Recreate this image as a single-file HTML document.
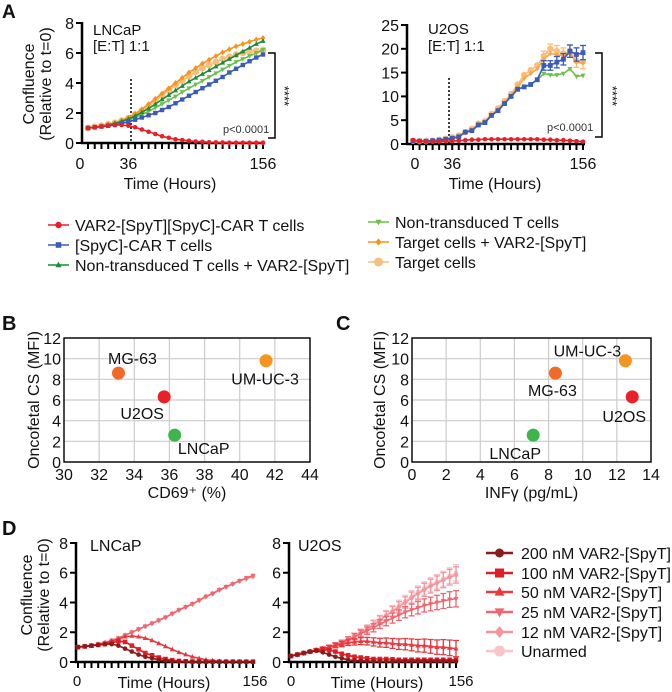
<!DOCTYPE html>
<html><head><meta charset="utf-8"><style>
html,body{margin:0;padding:0;background:#fff}
svg{display:block;font-family:"Liberation Sans",Arial,sans-serif}
</style></head><body>
<svg id="fig" width="672" height="692" viewBox="0 0 672 692" xmlns="http://www.w3.org/2000/svg"></svg>
<script>
// ---- Panel A data (time step 6 h, 0..156) ----
const timesA = [0,6,12,18,24,30,36,42,48,54,60,66,72,78,84,90,96,102,108,114,120,126,132,138,144,150,156];
const lncapCar = [1.0,1.05,1.1,1.15,1.2,1.2,1.15,1.05,0.9,0.75,0.6,0.45,0.35,0.25,0.2,0.15,0.1,0.08,0.05,0.04,0.03,0.02,0.02,0.02,0.02,0.02,0.02];
const lncapSpyC = [1.0,1.05,1.1,1.15,1.2,1.3,1.4,1.55,1.7,1.85,2.0,2.2,2.4,2.65,2.9,3.15,3.4,3.65,3.9,4.15,4.4,4.7,4.95,5.2,5.45,5.7,5.9];
const lncapNtVar = [1,1.05,1.1,1.2,1.3,1.45,1.6,1.8,2.05,2.3,2.6,2.9,3.2,3.5,3.8,4.1,4.35,4.6,4.85,5.1,5.35,5.6,5.85,6.1,6.35,6.6,6.8];
const lncapNt = [1,1.05,1.1,1.2,1.3,1.4,1.55,1.7,1.9,2.1,2.35,2.6,2.85,3.1,3.4,3.65,3.9,4.15,4.4,4.65,4.9,5.15,5.4,5.6,5.8,6.0,6.2];
const lncapTVar = [1,1.08,1.15,1.25,1.35,1.5,1.7,1.95,2.25,2.6,2.95,3.3,3.65,4.0,4.35,4.7,5.0,5.3,5.55,5.8,6.05,6.25,6.45,6.6,6.75,6.9,7.0];
const lncapTarget = [1,1.08,1.15,1.25,1.35,1.5,1.65,1.9,2.15,2.45,2.8,3.15,3.5,3.85,4.15,4.45,4.75,5.0,5.2,5.4,5.6,5.75,5.9,6.0,6.1,6.15,6.2];
const u2osCar = [0.8,0.6,0.5,0.5,0.5,0.6,0.6,0.7,0.8,0.9,0.9,1.0,1.0,1.0,1.0,1.0,1.0,1.0,1.0,1.0,0.9,0.9,0.8,0.8,0.7,0.6,0.5];
const u2osSpyC = [0.7,0.6,0.6,0.7,0.8,1.0,1.2,1.5,2.5,2.8,4.0,4.5,6.0,7.0,8.5,10.0,11.5,12.0,12.5,13.5,16.5,16.5,17.2,17.8,19.5,18.8,19.2];
const u2osNt = [0.7,0.6,0.6,0.7,0.8,1.0,1.2,1.5,2.5,2.8,4.0,4.5,6.0,7.0,8.5,10.0,11.5,12.0,12.5,13.5,14.8,14.5,14.5,14.8,15.8,14.2,14.4];
const u2osTVar = [0.7,0.6,0.6,0.7,0.85,1.05,1.3,1.7,2.4,3.0,4.1,4.6,6.1,7.2,8.7,10.2,12.0,13.8,14.8,15.8,17.8,19.0,18.8,18.5,19.0,17.2,17.0];
const u2osTarget = [0.7,0.6,0.6,0.7,0.9,1.1,1.4,1.8,2.5,3.2,4.3,4.8,6.3,7.5,9.0,10.5,12.5,14.5,15.5,16.5,18.5,20.0,19.5,19.0,19.5,17.5,17.3];
const u2osErr = [0,0,0,0,0,0,0,0,0,0,0,0,0,0,0,0,0,0,0,0,1.0,1.0,1.2,1.2,1.3,1.4,1.5];
const ticksA1 = [0,2,4,6,8];
const ticksA2 = [0,5,10,15,20,25];
const xLabels = [0,36,156];
// ---- Panel B/C data ----
const cellLines = ["MG-63","U2OS","LNCaP","UM-UC-3"];
const cd69 = [33.1,35.7,36.3,41.5];
const infg = [8.4,12.9,7.1,12.5];
const oncoCS = [8.6,6.3,2.6,9.8];
const ticksB = [30,32,34,36,38,40,42,44];
const ticksC = [0,2,4,6,8,10,12,14];
const ticksBY = [0,2,4,6,8,10,12];
// ---- Panel D data ----
const dLn200 = [1.0,1.05,1.1,1.15,1.2,1.2,1.1,0.9,0.7,0.5,0.35,0.25,0.15,0.1,0.05,0.03,0.02,0.02,0.02,0.02,0.02,0.02,0.02,0.02,0.02,0.02,0.02];
const dLn100 = [1,1.05,1.1,1.15,1.2,1.3,1.4,1.35,1.1,0.85,0.6,0.45,0.3,0.2,0.12,0.07,0.05,0.03,0.02,0.02,0.02,0.02,0.02,0.02,0.02,0.02,0.02];
const dLn50 = [1,1.05,1.1,1.15,1.25,1.4,1.55,1.7,1.75,1.7,1.6,1.45,1.25,1.05,0.85,0.65,0.5,0.35,0.25,0.15,0.1,0.05,0.03,0.02,0.02,0.02,0.02];
const dLn25 = [1,1.05,1.1,1.2,1.3,1.45,1.6,1.8,2.0,2.2,2.4,2.6,2.8,3.0,3.25,3.5,3.7,3.9,4.15,4.4,4.6,4.85,5.05,5.25,5.45,5.65,5.8];
const dLn12 = [1,1.05,1.1,1.2,1.3,1.45,1.6,1.8,2.0,2.2,2.4,2.6,2.8,3.0,3.25,3.5,3.7,3.9,4.15,4.4,4.6,4.85,5.05,5.25,5.45,5.6,5.75];
const dLnUn = [1,1.05,1.1,1.2,1.3,1.45,1.6,1.8,2.0,2.2,2.4,2.6,2.8,3.0,3.25,3.5,3.7,3.9,4.15,4.4,4.6,4.85,5.05,5.25,5.45,5.65,5.8];
const dU200 = [0.4,0.5,0.6,0.7,0.75,0.65,0.5,0.35,0.25,0.15,0.1,0.08,0.06,0.05,0.05,0.05,0.05,0.05,0.05,0.05,0.05,0.05,0.05,0.05,0.05,0.05,0.05];
const dU100 = [0.4,0.5,0.6,0.7,0.8,0.85,0.8,0.7,0.55,0.45,0.35,0.3,0.25,0.2,0.2,0.2,0.18,0.15,0.15,0.15,0.15,0.15,0.15,0.15,0.15,0.15,0.15];
const dU50 = [0.4,0.5,0.6,0.7,0.8,0.9,1.0,1.1,1.2,1.3,1.35,1.4,1.4,1.35,1.3,1.3,1.25,1.2,1.2,1.15,1.1,1.1,1.05,1.0,1.0,0.95,0.9];
const dU25 = [0.4,0.5,0.6,0.7,0.8,0.9,1.0,1.15,1.3,1.5,1.7,1.9,2.1,2.3,2.55,2.75,2.95,3.15,3.35,3.5,3.65,3.8,3.9,4.0,4.1,4.2,4.25];
const dU12 = [0.4,0.5,0.6,0.7,0.8,0.9,1.0,1.15,1.3,1.5,1.7,1.95,2.2,2.5,2.8,3.1,3.4,3.7,4.0,4.3,4.6,4.85,5.1,5.3,5.5,5.7,5.85];
const dUUn = [0.4,0.5,0.6,0.7,0.8,0.9,1.0,1.15,1.3,1.5,1.75,2.0,2.25,2.55,2.85,3.15,3.45,3.8,4.1,4.4,4.7,4.95,5.2,5.4,5.6,5.8,6.0];
const ticksD = [0,2,4,6,8];

const NS="http://www.w3.org/2000/svg";
const svg=document.getElementById('fig');
function el(tag,attrs,parent){const e=document.createElementNS(NS,tag);for(const k in attrs)e.setAttribute(k,attrs[k]);(parent||svg).appendChild(e);return e;}
function txt(s,x,y,size,anchor,parent,extra){const t=el('text',Object.assign({x:x,y:y,'font-size':size,'text-anchor':anchor||'start',fill:'#111'},extra||{}),parent);t.textContent=s;return t;}
function lin(x0,x1,d0,d1){return v=>x0+(v-d0)/(d1-d0)*(x1-x0);}
function marker(shape,x,y,r,color,g){
  let m;
  if(shape==='circle')m=el('circle',{cx:x,cy:y,r:r,fill:color},g);
  else if(shape==='square')m=el('rect',{x:x-r,y:y-r,width:2*r,height:2*r,fill:color},g);
  else if(shape==='up')m=el('polygon',{points:`${x},${y-r*1.2} ${x-r*1.1},${y+r*0.8} ${x+r*1.1},${y+r*0.8}`,fill:color},g);
  else if(shape==='down')m=el('polygon',{points:`${x},${y+r*1.2} ${x-r*1.1},${y-r*0.8} ${x+r*1.1},${y-r*0.8}`,fill:color},g);
  else m=el('polygon',{points:`${x},${y-r*1.3} ${x-r*1.1},${y} ${x},${y+r*1.3} ${x+r*1.1},${y}`,fill:color},g);
  return m;
}
function series(name,xs,ys,sx,sy,color,shape,r,err){
  const g=el('g',{});
  
  
  const pts=xs.map((t,i)=>sx(t).toFixed(1)+','+sy(ys[i]).toFixed(1)).join(' ');
  el('polyline',{points:pts,fill:'none',stroke:color,'stroke-width':1.6},g);
  xs.forEach((t,i)=>{
    if(err&&err[i]>0){const x=sx(t);el('line',{x1:x,x2:x,y1:sy(ys[i]-err[i]),y2:sy(ys[i]+err[i]),stroke:color,'stroke-width':1.3},g);
      el('line',{x1:x-3,x2:x+3,y1:sy(ys[i]+err[i]),y2:sy(ys[i]+err[i]),stroke:color,'stroke-width':1.3},g);
      el('line',{x1:x-3,x2:x+3,y1:sy(ys[i]-err[i]),y2:sy(ys[i]-err[i]),stroke:color,'stroke-width':1.3},g);}
    const m=marker(shape,sx(t),sy(ys[i]),r,color,g);
    
    
  });
}
function timeAxes(name,axX,x0,x156,yTop,yBot,sy,ticks,step,fs){
  const g=el('g',{});
  
  
  el('line',{x1:axX,x2:axX,y1:yTop,y2:yBot+1,stroke:'#000','stroke-width':2.5},g);
  el('line',{x1:axX-1,x2:x156+2,y1:yBot,y2:yBot,stroke:'#000','stroke-width':2.5},g);
  ticks.forEach(v=>{el('line',{x1:axX-6,x2:axX,y1:sy(v),y2:sy(v),stroke:'#000','stroke-width':2},g);
    txt(String(v),axX-8,sy(v)+fs*0.36,fs,'end',g);});
  const sx=lin(x0,x156,0,156);
  for(let t=0;t<=156;t+=step){el('line',{x1:sx(t),x2:sx(t),y1:yBot,y2:yBot+6,stroke:'#000','stroke-width':2},g);}
  return sx;
}
// ===== Panel A =====
txt('A',2,18,19,'start',null,{'font-weight':'bold'});
const yA1=lin(143,23,0,8);
const sxA1=timeAxes('panel-a-lncap-axes',82,88,263,22,143,yA1,ticksA1,6,16);
xLabels.forEach(v=>txt(String(v),sxA1(v)+(v===0?-8:0),169,16,'middle'));
txt('Time (Hours)',170,189,16,'middle');
txt('LNCaP',93,35,15);txt('[E:T] 1:1',93,51,15);
el('line',{x1:131,x2:131,y1:79,y2:143,stroke:'#000','stroke-width':1.5,'stroke-dasharray':'2,2'});
series('lncap-target-cells',timesA,lncapTarget,sxA1,yA1,'#f8be7c','circle',3.4);
series('lncap-non-transduced',timesA,lncapNt,sxA1,yA1,'#6cc04a','down',2.3);
series('lncap-target-var2',timesA,lncapTVar,sxA1,yA1,'#f7931e','diamond',2.2);
series('lncap-nt-var2',timesA,lncapNtVar,sxA1,yA1,'#1e8a3c','up',2.3);
series('lncap-spyc-car',timesA,lncapSpyC,sxA1,yA1,'#3a5bb8','square',2.2);
series('lncap-var2-car',timesA,lncapCar,sxA1,yA1,'#e8202a','circle',2.3);
el('path',{d:'M268,53 H275 V138 H268',fill:'none',stroke:'#000','stroke-width':1.5});
txt('****',280,96,13,'middle',null,{transform:'rotate(90 280 96)'});
txt('p<0.0001',223,133,11,'start',null,{fill:'#333'});
const ytA=el('text',{x:0,y:0,'font-size':16,'text-anchor':'middle',transform:'translate(34,84) rotate(-90)',fill:'#111'});


ytA.innerHTML='<tspan x="0" dy="0">Confluence</tspan><tspan x="0" dy="17">(Relative to t=0)</tspan>';

const yA2=lin(144,25,0,25);
const sxA2=timeAxes('panel-a-u2os-axes',407,413,583,24,144,yA2,ticksA2,6,16);
xLabels.forEach(v=>txt(String(v),sxA2(v)+(v===0?2:0),169,16,'middle'));
txt('Time (Hours)',495,189,16,'middle');
txt('U2OS',428,34,15);txt('[E:T] 1:1',428,51,15);
el('line',{x1:449,x2:449,y1:78,y2:143,stroke:'#000','stroke-width':1.5,'stroke-dasharray':'2,2'});
series('u2os-target-cells',timesA,u2osTarget,sxA2,yA2,'#f8be7c','circle',3.2,u2osErr);
series('u2os-target-var2',timesA,u2osTVar,sxA2,yA2,'#f7a84a','diamond',2.0);
series('u2os-non-transduced',timesA,u2osNt,sxA2,yA2,'#6cc04a','down',2.3);
series('u2os-spyc-car',timesA,u2osSpyC,sxA2,yA2,'#3a5bb8','square',2.4,u2osErr);
series('u2os-var2-car',timesA,u2osCar,sxA2,yA2,'#e8202a','circle',2.3);
el('path',{d:'M595,53 H602 V137 H595',fill:'none',stroke:'#000','stroke-width':1.5});
txt('****',608,96,13,'middle',null,{transform:'rotate(90 608 96)'});
txt('p<0.0001',547,131,11,'start',null,{fill:'#333'});

// Legend A
const legA=[['VAR2-[SpyT][SpyC]-CAR T cells','#e8202a','circle',48,225],['[SpyC]-CAR T cells','#3a5bb8','square',48,245],['Non-transduced T cells + VAR2-[SpyT]','#1e8a3c','up',48,265],
 ['Non-transduced T cells','#6cc04a','down',368,222],['Target cells + VAR2-[SpyT]','#f7931e','diamond',368,242],['Target cells','#f8be7c','circle',368,262]];
legA.forEach(l=>{const g=el('g',{});
 el('line',{x1:l[3],x2:l[3]+21,y1:l[4],y2:l[4],stroke:l[1],'stroke-width':1.6},g);marker(l[2],l[3]+10.5,l[4],l[0]==='Target cells'?4.5:(l[0].startsWith('VAR2')?3.2:2.8),l[1],g);
 txt(l[0],l[3]+27,l[4]+6,16,'start',g);});

// ===== Panels B & C =====
const colors=['#f26a2a','#e8202a','#3db54a','#f7941d'];
function scatter(name,x0,x1,d0,d1,xt,xs,labelOff,xtitle,ytx,panel,px){
  const g=el('g',{});
  const sx=lin(x0,x1,d0,d1),sy=lin(462,338,0,12);
  xt.forEach(v=>{el('line',{x1:sx(v),x2:sx(v),y1:338,y2:462,stroke:'#ccc','stroke-width':1.2},g);txt(String(v),sx(v),480,16,'middle',g);});
  ticksBY.forEach(v=>{el('line',{x1:x0,x2:x1,y1:sy(v),y2:sy(v),stroke:'#ccc','stroke-width':1.2},g);txt(String(v),x0-3,sy(v)+6,16,'end',g);});
  el('rect',{x:x0,y:338,width:x1-x0,height:124,fill:'none',stroke:'#000','stroke-width':1.4},g);
  xs.forEach((v,i)=>{const c=el('circle',{cx:sx(v),cy:sy(oncoCS[i]),r:6.5,fill:colors[i]},g);
    
    txt(cellLines[i],sx(v)+labelOff[i][0],sy(oncoCS[i])+labelOff[i][1]+6,16,'middle',g);});
  txt(xtitle,(x0+x1)/2,498,16,'middle',g);
  txt('Oncofetal CS (MFI)',0,0,16,'middle',g,{transform:`translate(${ytx},400) rotate(-90)`});
  txt(panel,px,330,20,'start',null,{'font-weight':'bold'});
}
scatter('panel-b-scatter',64,310,30,44,ticksB,cd69,[[14,-15],[-22,16],[29,13],[-1,18]],'CD69⁺ (%)',39,'B',2);
scatter('panel-c-scatter',412,651,0,14,ticksC,infg,[[-3,17],[-8,19],[-18,18],[-38,-10]],'INFγ (pg/mL)',385,'C',336);

// ===== Panel D =====
txt('D',2,535,20,'start',null,{'font-weight':'bold'});
const yD=lin(662,543,0,8);
const sxD1=timeAxes('panel-d-lncap-axes',76,78,253,542,662,yD,ticksD,6,16);
const sxD2=timeAxes('panel-d-u2os-axes',289,291,456,542,662,yD,ticksD,6,16);
txt('0',77,686,15,'middle');txt('156',255,686,15,'middle');txt('0',291,686,15,'middle');txt('156',461,686,15,'middle');
txt('Time (Hours)',164,688,16,'middle');txt('Time (Hours)',377,688,16,'middle');
txt('LNCaP',90,551,16);txt('U2OS',298,551,16);
const ytD=el('text',{x:0,y:0,'font-size':16,'text-anchor':'middle',transform:'translate(32,595) rotate(-90)',fill:'#111'});


ytD.innerHTML='<tspan x="0" dy="0">Confluence</tspan><tspan x="0" dy="17">(Relative to t=0)</tspan>';
const dCols=['#8b1a1a','#e01e25','#e83a3f','#ee6670','#f4959c','#f9c5c9'];
const dShapes=['circle','square','up','down','diamond','circle'];
const dNames=['200 nM VAR2-[SpyT]','100 nM VAR2-[SpyT]','50 nM VAR2-[SpyT]','25 nM VAR2-[SpyT]','12 nM VAR2-[SpyT]','Unarmed'];
const dLn=[dLn200,dLn100,dLn50,dLn25,dLn12,dLnUn], dU=[dU200,dU100,dU50,dU25,dU12,dUUn];
const dErrU=timesA.map(t=>t*0.0035);
for(let i=5;i>=0;i--){series('d-lncap-'+i,timesA,dLn[i],sxD1,yD,dCols[i],dShapes[i],2.3);}
for(let i=5;i>=0;i--){series('d-u2os-'+i,timesA,dU[i],sxD2,yD,dCols[i],dShapes[i],2.3,i>=2?dErrU:null);}
dNames.forEach((n,i)=>{const y=[553,573,592,612,632,651][i];const g=el('g',{});
 el('line',{x1:486,x2:513,y1:y,y2:y,stroke:dCols[i],'stroke-width':2.5},g);marker(dShapes[i],499.5,y,i===5?5.5:4.5,dCols[i],g);txt(n,521,y+6,16,'start',g);});
</script>
</body></html>
